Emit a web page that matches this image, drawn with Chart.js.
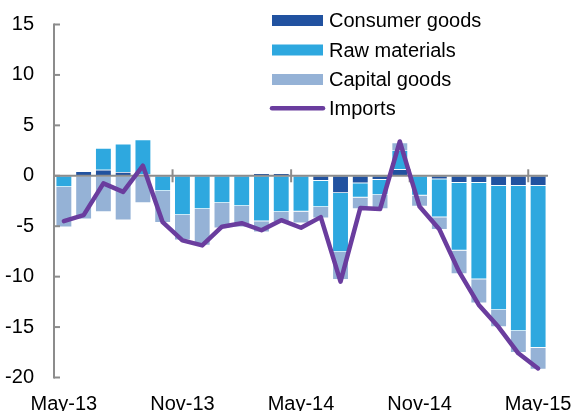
<!DOCTYPE html>
<html><head><meta charset="utf-8">
<script src="https://cdn.jsdelivr.net/npm/chart.js@4"></script>
<style>html,body{margin:0;padding:0;background:#fff;} #wrap{width:577px;height:411px;}</style>
</head><body><div id="wrap"><canvas id="c" width="577" height="411"></canvas></div>
<script>
const months = ["May-13","Jun-13","Jul-13","Aug-13","Sep-13","Oct-13","Nov-13","Dec-13","Jan-14","Feb-14","Mar-14","Apr-14","May-14","Jun-14","Jul-14","Aug-14","Sep-14","Oct-14","Nov-14","Dec-14","Jan-15","Feb-15","Mar-15","Apr-15","May-15"];
const consumerGoods = [0,0.45,0.6,0.37,0.15,0,0,0,0,0,0.25,0.25,0,-0.5,-1.7,-0.75,-0.4,0.65,0,-0.35,-0.7,-0.7,-1.0,-1.0,-1.0];
const rawMaterials = [-1.1,0,2.15,2.8,3.45,-1.5,-3.9,-3.3,-2.7,-3.0,-4.5,-3.6,-3.55,-2.6,-5.85,-1.4,-1.5,1.9,-1.95,-3.75,-6.7,-9.55,-12.3,-14.4,-16.05];
const capitalGoods = [-4.0,-4.3,-3.6,-4.4,-2.7,-3.15,-2.5,-3.6,-2.5,-2.1,-1.1,-0.95,-1.15,-1.1,-2.75,-1.15,-1.4,0.75,-1.1,-1.25,-2.35,-2.4,-1.7,-2.15,-2.15];
const imports = [-4.5,-3.9,-0.75,-1.6,1.0,-4.6,-6.4,-6.9,-5.05,-4.7,-5.4,-4.4,-5.15,-4.1,-10.5,-3.2,-3.3,3.4,-3.05,-5.3,-9.5,-12.8,-15.0,-17.6,-19.1];
const yTicks = [15,10,5,0,-5,-10,-15,-20];
const labelEvery = 6;

const FONT = "'Liberation Sans', Arial, sans-serif";
Chart.defaults.font.family = FONT;
Chart.defaults.color = '#000';

const AXIS_COLOR = '#8c8c8c';

const axisPlugin = {
  id: 'customAxes',
  beforeDatasetDraw(chart, args) {
    if (args.meta.type !== 'line') return;
    const ctx = chart.ctx, x = chart.scales.x, y = chart.scales.y, ca = chart.chartArea;
    ctx.save();
    ctx.strokeStyle = AXIS_COLOR;
    ctx.lineWidth = 2;
    const top = y.getPixelForValue(yTicks[0]);
    const bot = y.getPixelForValue(yTicks[yTicks.length - 1]);
    ctx.beginPath();
    ctx.moveTo(ca.left, top - 1); ctx.lineTo(ca.left, bot + 1);
    ctx.stroke();
    yTicks.forEach(v => {
      const p = y.getPixelForValue(v);
      ctx.beginPath(); ctx.moveTo(ca.left, p); ctx.lineTo(ca.left + 6, p); ctx.stroke();
    });
    const y0 = y.getPixelForValue(0);
    ctx.beginPath(); ctx.moveTo(ca.left, y0); ctx.lineTo(ca.right, y0); ctx.stroke();
    for (let i = labelEvery; i < months.length; i += labelEvery) {
      const bx = (x.getPixelForValue(i - 1) + x.getPixelForValue(i)) / 2;
      ctx.beginPath(); ctx.moveTo(bx, y0 - 6.5); ctx.lineTo(bx, y0 + 6.5); ctx.stroke();
    }
    ctx.restore();
  }
};

const legendPlugin = {
  id: 'customLegend',
  afterDraw(chart) {
    const ctx = chart.ctx;
    const ds = chart.data.datasets;
    const x0 = 272, sw = 51, tx = 329, rowY = [20.5, 50, 79.5, 108.3];
    ctx.save();
    ctx.font = "20px " + FONT;
    ctx.textBaseline = 'middle';
    ctx.fillStyle = '#000';
    ds.forEach((d, i) => {
      const cy = rowY[i];
      if (d.type === 'line') {
        ctx.strokeStyle = d.borderColor; ctx.lineWidth = 4.5; ctx.lineCap = 'round';
        ctx.beginPath(); ctx.moveTo(x0, cy); ctx.lineTo(x0 + sw, cy); ctx.stroke();
      } else {
        ctx.fillStyle = d.backgroundColor;
        ctx.fillRect(x0, cy - 5.5, sw, 11);
      }
      ctx.fillStyle = '#000';
      ctx.fillText(d.label, tx, cy + 1);
    });
    ctx.restore();
  }
};

const hiddenGrid = (len) => ({ display: true, drawOnChartArea: false, drawTicks: true, tickLength: len, color: 'rgba(0,0,0,0)' });

new Chart(document.getElementById('c'), {
  data: {
    labels: months,
    datasets: [
      { type: 'bar', label: 'Consumer goods', data: consumerGoods, backgroundColor: '#2152a0', stack: 'bars', order: 1, borderColor: 'rgba(255,255,255,0.7)', borderWidth: 0.75 },
      { type: 'bar', label: 'Raw materials', data: rawMaterials, backgroundColor: '#2ea8df', stack: 'bars', order: 1, borderColor: 'rgba(255,255,255,0.7)', borderWidth: 0.75 },
      { type: 'bar', label: 'Capital goods', data: capitalGoods, backgroundColor: '#95b2d6', stack: 'bars', order: 1, borderColor: 'rgba(255,255,255,0.7)', borderWidth: 0.75 },
      { type: 'line', label: 'Imports', data: imports, borderColor: '#6a3d9e', backgroundColor: '#6a3d9e', borderWidth: 4.5, pointRadius: 0, tension: 0, stack: 'line', order: 0, borderJoinStyle: 'round', borderCapStyle: 'round' }
    ]
  },
  options: {
    responsive: false,
    animation: false,
    layout: { padding: { top: 24.5, right: 29, bottom: 0, left: 0 } },
    datasets: { bar: { categoryPercentage: 1, barPercentage: 0.83 } },
    plugins: { legend: { display: false }, tooltip: { enabled: false } },
    scales: {
      x: {
        stacked: true,
        offset: true,
        grid: hiddenGrid(15),
        border: { display: false },
        afterFit(s) { s.height = 33.5; },
        ticks: {
          autoSkip: false, maxRotation: 0, padding: 0,
          font: { size: 20 },
          callback(v, i) { return i % labelEvery === 0 ? months[i] : ''; }
        }
      },
      y: {
        stacked: true,
        min: -20, max: 15,
        grid: hiddenGrid(20),
        border: { display: false },
        afterFit(s) { s.width = 54; },
        ticks: { stepSize: 5, padding: 0, font: { size: 20 } }
      }
    }
  },
  plugins: [axisPlugin, legendPlugin]
});
</script>
</body></html>
